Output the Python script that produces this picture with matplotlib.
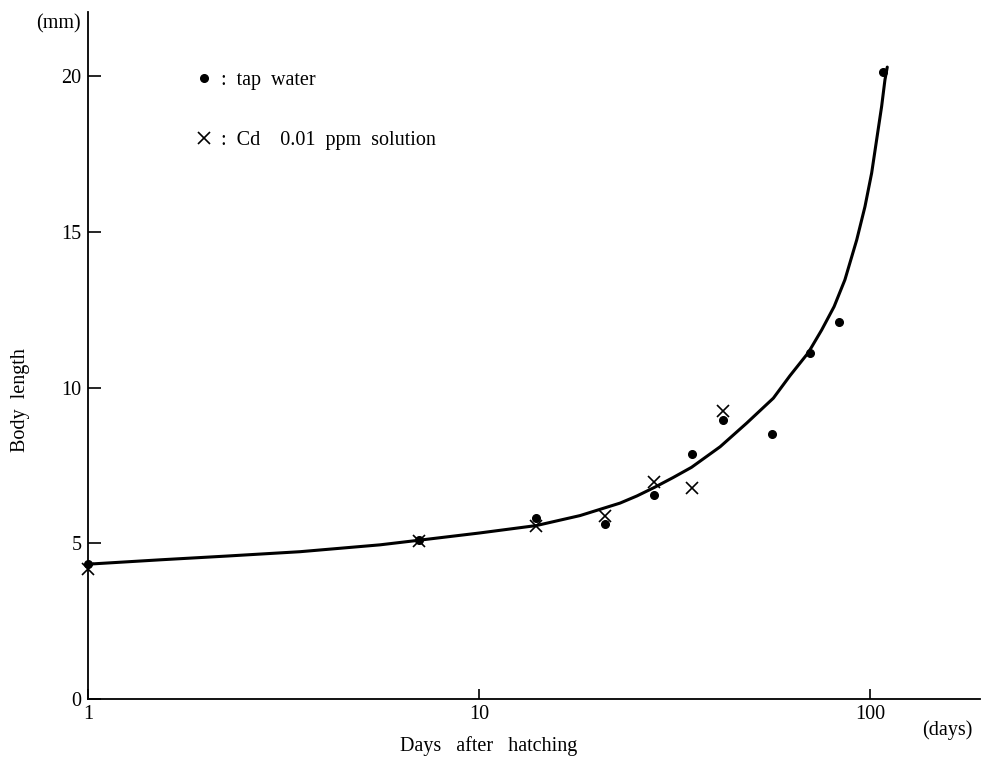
import numpy as np
import matplotlib.pyplot as plt
from matplotlib.lines import Line2D

plt.rcParams['font.family'] = ['Liberation Serif', 'DejaVu Serif']

# Measured points (days after hatching, body length in mm)
tap_days = [1, 7, 14, 21, 28, 35, 42, 56, 70, 83, 108]
tap_len = [4.33, 5.12, 5.82, 5.61, 6.54, 7.88, 8.96, 8.51, 11.12, 12.12, 20.13]

cd_days = [1, 7, 14, 21, 28, 35, 42]
cd_len = [4.17, 5.07, 5.55, 5.89, 6.98, 6.76, 9.25]

# Growth curve
curve_days = [1, 1.53, 2.26, 3.48, 5.57, 6.92, 10, 14, 18.1, 22.9, 25.3, 28.1, 31.3,
              34.9, 41.3, 48.3, 56.5, 62.3, 69.4, 75.1, 80.8, 86.1, 92.3, 96.9,
              100.8, 103.8, 106.9, 109.0, 110.5]
curve_len = [4.33, 4.47, 4.59, 4.73, 4.95, 5.09, 5.33, 5.57, 5.89, 6.29, 6.52, 6.80,
             7.11, 7.44, 8.10, 8.86, 9.66, 10.38, 11.12, 11.85, 12.60, 13.46, 14.74,
             15.81, 16.89, 17.96, 19.03, 19.88, 20.29]

FS = 14.5

fig = plt.figure(figsize=(9.81, 7.57), dpi=100)
ax = fig.add_axes([0.090, 0.0766, 0.909, 0.908])

ax.plot(curve_days, curve_len, color='black', lw=2.2,
        solid_capstyle='round', solid_joinstyle='round')
ax.plot(tap_days, tap_len, 'o', color='black', ms=5.5, ls='none', clip_on=False)
ax.plot(cd_days, cd_len, 'x', color='black', ms=8, mew=1.2, ls='none', clip_on=False)

ax.set_xscale('log')
ax.set_xlim(1, 190.8)
ax.set_ylim(0, 22.07)

ax.set_xticks([1, 10, 100])
ax.set_xticklabels(['1', '10', '100'])
ax.xaxis.set_minor_locator(plt.NullLocator())
ax.set_yticks([0, 5, 10, 15, 20])
ax.set_yticklabels(['0', '5', '10', '15', '20'])

ax.tick_params(axis='both', direction='in', labelsize=FS, width=1.2, color='black')
ax.tick_params(axis='x', length=7, pad=4)
ax.tick_params(axis='y', length=9, pad=5)

for side in ['top', 'right']:
    ax.spines[side].set_visible(False)
for side in ['left', 'bottom']:
    ax.spines[side].set_linewidth(1.3)

fig.text(0.021, 0.472, 'Body  length', fontsize=FS, rotation=90, ha='center', va='center')
fig.text(0.4985, 0.0085, 'Days   after   hatching', fontsize=FS, ha='center', va='baseline')
fig.text(0.966, 0.029, '(days)', fontsize=FS, ha='center', va='baseline')
fig.text(0.0826, 0.969, '(mm)', fontsize=FS, ha='right', va='center')

handles = [
    Line2D([], [], marker='o', color='black', ls='none', ms=5.5),
    Line2D([], [], marker='x', color='black', ls='none', ms=8, mew=1.2),
]
ax.legend(handles, [':  tap  water', ':  Cd    0.01  ppm  solution'],
          loc='upper left', bbox_to_anchor=(0.187, 0.92), bbox_transform=fig.transFigure,
          frameon=False, fontsize=FS, labelspacing=2.05, handlelength=1.0,
          handletextpad=0.35, borderpad=0)

fig.savefig('out.png', dpi=100)
